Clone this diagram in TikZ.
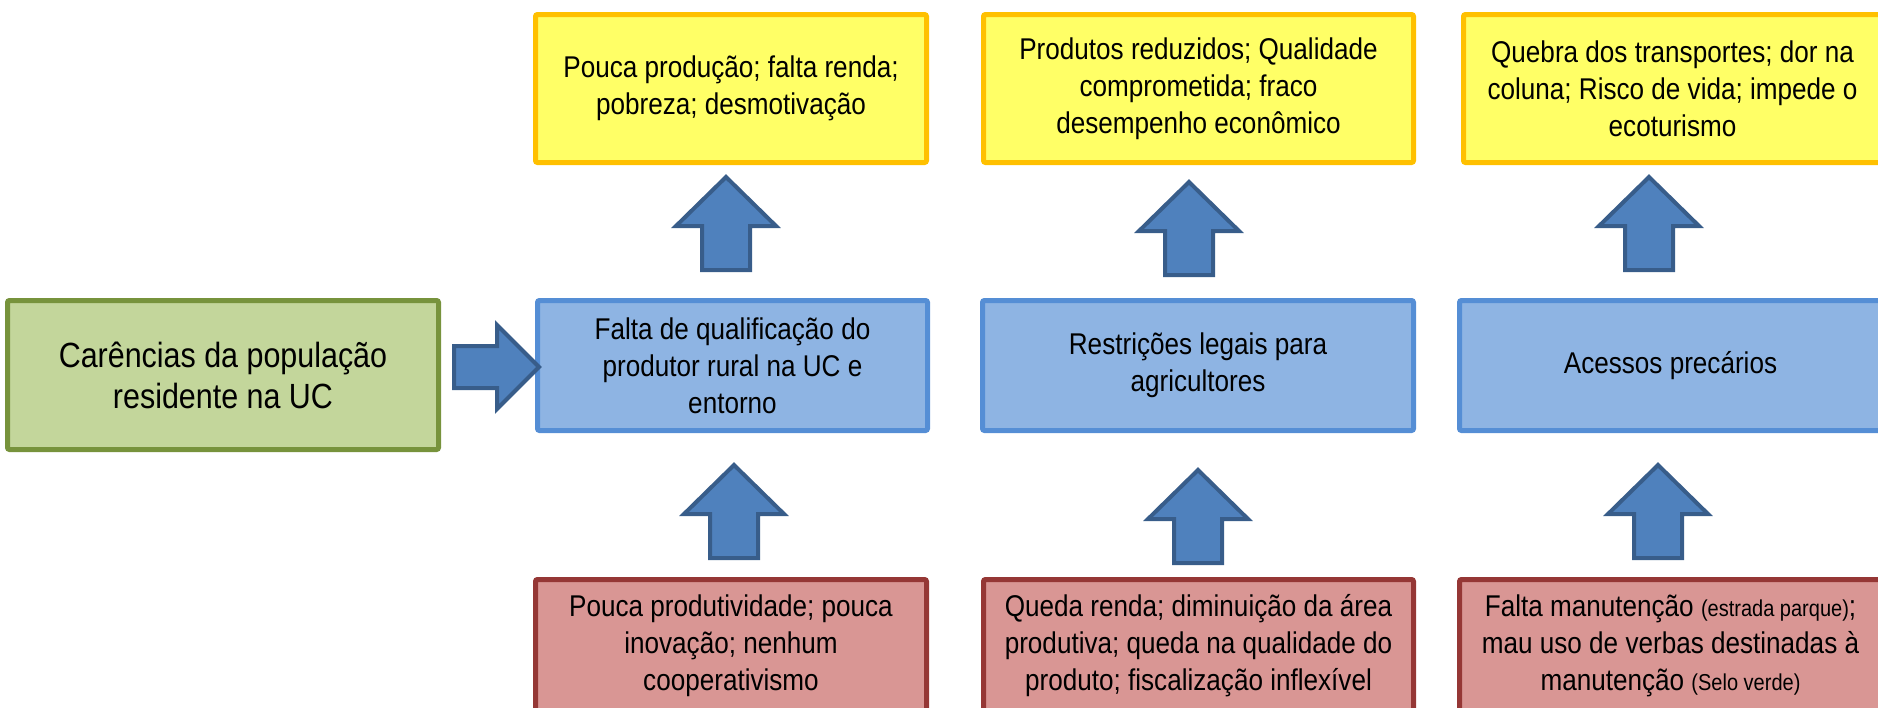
\documentclass[tikz,border=0pt]{standalone}
\usepackage{fontspec}
\setmainfont[FakeStretch=0.87]{Liberation Sans}
\definecolor{gfill}{HTML}{C3D69B}
\definecolor{gdraw}{HTML}{77933C}
\definecolor{bfill}{HTML}{8EB4E3}
\definecolor{bdraw}{HTML}{558ED5}
\definecolor{yfill}{HTML}{FFFF66}
\definecolor{ydraw}{HTML}{FFC000}
\definecolor{rfill}{HTML}{D99694}
\definecolor{rdraw}{HTML}{953735}
\definecolor{afill}{HTML}{4F81BD}
\definecolor{adraw}{HTML}{385D8A}
\newcommand\smalltxt[1]{{\fontsize{23}{37}\selectfont #1}}
\begin{document}
\begin{tikzpicture}[x=1pt,y=-1pt,
  box/.style={rectangle, line width=5pt, rounded corners=2pt, align=center,
    inner sep=4pt, font=\fontsize{30}{37}\selectfont},
  greenbox/.style={box, fill=gfill, draw=gdraw, minimum width=431pt, minimum height=149pt,
    font=\fontsize{35}{41}\selectfont},
  bluebox/.style={box, fill=bfill, draw=bdraw, minimum height=130pt},
  yellowbox/.style={box, fill=yfill, draw=ydraw, minimum height=148pt},
  redbox/.style={box, fill=rfill, draw=rdraw, minimum height=133pt},
  blockarrow/.style={fill=afill, draw=adraw, line width=4pt, line join=miter},
  uparrow/.pic={\draw[blockarrow] (0,0) -- (50,49) -- (24,49) -- (24,93) -- (-24,93) -- (-24,49) -- (-50,49) -- cycle;},
  rightarrow/.pic={\draw[blockarrow] (0,0) -- (-42,-42) -- (-42,-21) -- (-85,-21) -- (-85,21) -- (-42,21) -- (-42,42) -- cycle;}
]
\useasboundingbox (0,0) rectangle (1878,707);

\node[greenbox] (g) at (223,375) {Carências da população\\residente na UC};

\node[bluebox, minimum width=390pt] (b1) at (732.5,365.5) {Falta de qualificação do\\produtor rural na UC e\\entorno};
\node[bluebox, minimum width=431pt] (b2) at (1198,365.5) {Restrições legais para\\agricultores};
\node[bluebox, minimum width=422pt] (b3) at (1670.5,365.5) {Acessos precários};

\node[yellowbox, minimum width=391pt] (y1) at (731,88.5) {Pouca produção; falta renda;\\pobreza; desmotivação};
\node[yellowbox, minimum width=430pt] (y2) at (1198.5,88.5) {Produtos reduzidos; Qualidade\\comprometida; fraco\\desempenho econômico};
\node[yellowbox, minimum width=418pt] (y3) at (1672.5,88.5) {Quebra dos transportes; dor na\\coluna; Risco de vida; impede o\\ecoturismo};

\node[redbox, minimum width=391pt] (r1) at (731,646) {Pouca produtividade; pouca\\inovação; nenhum\\cooperativismo};
\node[redbox, minimum width=430pt] (r2) at (1198.5,646) {Queda renda; diminuição da área\\produtiva; queda na qualidade do\\produto; fiscalização inflexível};
\node[redbox, minimum width=422pt] (r3) at (1670.5,646) {Falta manutenção \smalltxt{(estrada parque)};\\mau uso de verbas destinadas à\\manutenção \smalltxt{(Selo verde)}};

\pic at (539,367) {rightarrow};
\pic at (726,177) {uparrow};
\pic at (1189,182) {uparrow};
\pic at (1649,177) {uparrow};
\pic at (734,465) {uparrow};
\pic at (1198,470) {uparrow};
\pic at (1658,465) {uparrow};
\end{tikzpicture}
\end{document}
